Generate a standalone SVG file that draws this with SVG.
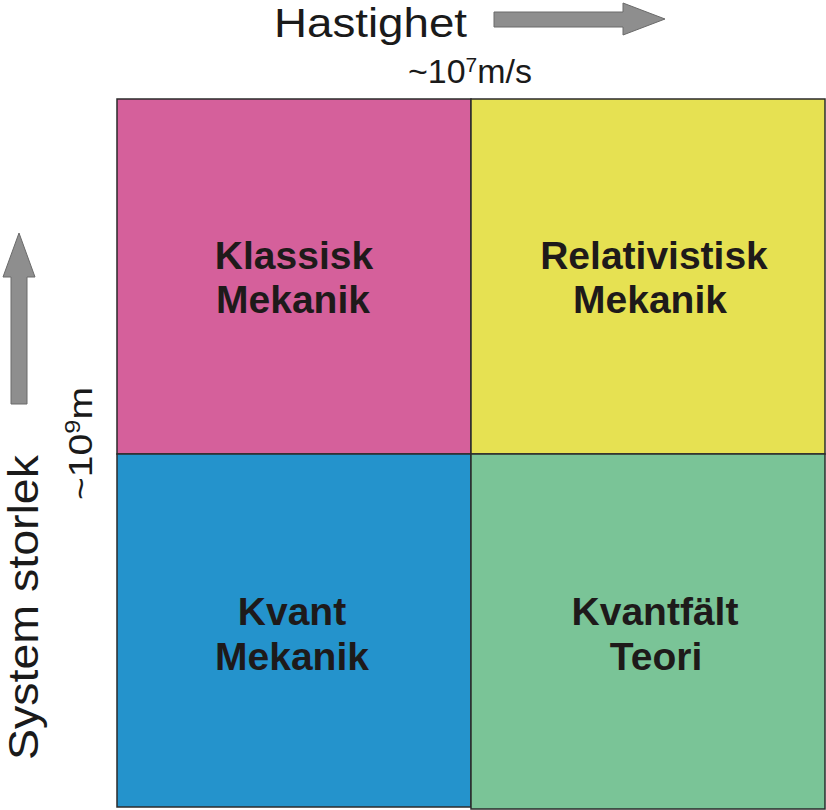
<svg xmlns="http://www.w3.org/2000/svg" width="826" height="810" viewBox="0 0 826 810">
  <style>
    .cell { stroke: #2b2b2b; stroke-width: 1.5; }
    .lbl { font-family: "Liberation Sans", Arial, sans-serif; font-weight: bold; font-size: 39px; fill: #1e1a1a; text-anchor: middle; }
    .axis { font-family: "Liberation Sans", Arial, sans-serif; fill: #1a1a1a; }
    .arrow { fill: #8e8e8e; stroke: #6a6a6a; stroke-width: 1; }
  </style>
  <rect width="826" height="810" fill="#ffffff"/>

  <g id="klassisk">
    <rect class="cell" x="117" y="99" width="354" height="355" fill="#D5609B"/>
    <text class="lbl" x="294" y="269">Klassisk</text>
    <text class="lbl" x="293" y="313">Mekanik</text>
  </g>
  <g id="relativistisk">
    <rect class="cell" x="471" y="99" width="354" height="355" fill="#E6E152"/>
    <text class="lbl" x="654" y="269">Relativistisk</text>
    <text class="lbl" x="650" y="313">Mekanik</text>
  </g>
  <g id="kvant">
    <rect class="cell" x="117" y="454" width="354" height="353" fill="#2493CC"/>
    <text class="lbl" x="292" y="625">Kvant</text>
    <text class="lbl" x="292" y="670">Mekanik</text>
  </g>
  <g id="kvantfalt">
    <rect class="cell" x="471" y="454" width="354" height="355" fill="#7AC497"/>
    <text class="lbl" x="655" y="625">Kvantfält</text>
    <text class="lbl" x="656" y="670">Teori</text>
  </g>

  <g id="axes">
    <text class="axis" x="274" y="37" font-size="40" textLength="193" lengthAdjust="spacingAndGlyphs">Hastighet</text>
    <polygon class="arrow" points="494,12 623,12 623,3 665,19 623,35 623,27 494,27"/>
    <text class="axis" x="408" y="83" font-size="34" textLength="124" lengthAdjust="spacingAndGlyphs">~10<tspan font-size="21" dy="-11">7</tspan><tspan dy="11">m/s</tspan></text>

    <text class="axis" transform="translate(38,760) rotate(-90)" font-size="43" textLength="305" lengthAdjust="spacingAndGlyphs">System storlek</text>
    <polygon class="arrow" points="11,404 11,277 3,277 19,233 35,277 27,277 27,404"/>
    <text class="axis" transform="translate(92,500) rotate(-90)" font-size="34" textLength="113" lengthAdjust="spacingAndGlyphs">~10<tspan font-size="22" dy="-12">9</tspan><tspan dy="12">m</tspan></text>
  </g>
</svg>
